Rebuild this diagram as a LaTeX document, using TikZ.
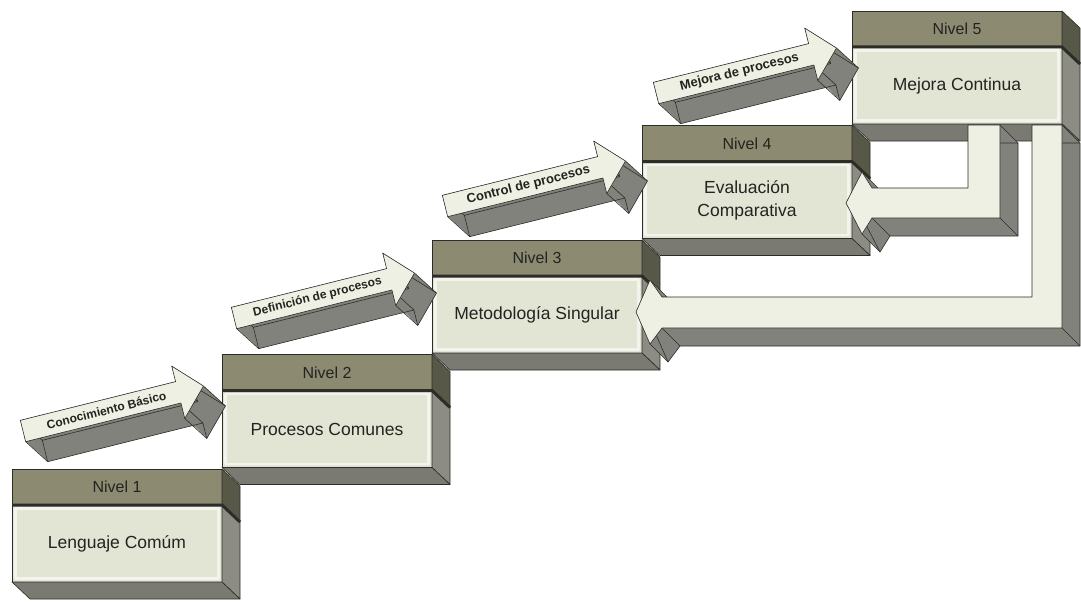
\documentclass[tikz,border=0pt]{standalone}
\usepackage{fontspec}
\setmainfont{Liberation Sans}
\usetikzlibrary{calc}

\definecolor{hdr}{RGB}{140,139,114}
\definecolor{hdrside}{RGB}{88,88,72}
\definecolor{bodyfill}{RGB}{226,228,212}
\definecolor{bodyside}{RGB}{140,140,132}
\definecolor{bodybot}{RGB}{122,122,114}
\definecolor{arrtop}{RGB}{238,240,228}
\definecolor{arrside}{RGB}{130,130,124}
\definecolor{edge}{RGB}{45,45,40}
\definecolor{ink}{RGB}{35,35,32}

\tikzset{
  hdrbox/.style={draw=edge, fill=hdr, line width=0.8pt, minimum width=210pt,
    minimum height=36pt, inner sep=0pt, outer sep=0pt, text=ink,
    font=\fontsize{16}{19}\selectfont},
  bodybox/.style={draw=edge, fill=bodyfill, line width=0.8pt, minimum width=210pt,
    minimum height=77pt, inner sep=0pt, outer sep=0pt, text=ink, align=center,
    font=\fontsize{17.5}{23}\selectfont},
  face/.style={draw=edge, line width=0.6pt},
  arrtext/.style={text=ink, inner sep=0pt},
}

% one level of the staircase: #1 name, #2 left, #3 top, #4 level label, #5 body text
\newcommand{\stage}[5]{%
  \node[hdrbox] (#1h) at (#2+105,#3+18) {#4};
  \node[bodybox] (#1) at (#2+105,#3+74.5) {#5};
  \filldraw[face, fill=hdrside] (#1h.north east) -- ++(18,17)
    -- ([shift={(18,17)}]#1h.south east) -- (#1h.south east) -- cycle;
  \filldraw[face, fill=bodyside] (#1.north east) -- ++(18,17)
    -- ([shift={(18,17)}]#1.south east) -- (#1.south east) -- cycle;
  \filldraw[face, fill=bodybot] (#1.south west) -- (#1.south east) -- ++(18,17)
    -- ([shift={(18,17)}]#1.south west) -- cycle;
  \draw[edge, line width=3pt] (#1h.south west) -- (#1h.south east) -- ++(18,17);
  \draw[white!60!bodyfill, line width=2.5pt]
    ([shift={(3.5,3.5)}]#1.north west) rectangle ([shift={(-3.5,-3.5)}]#1.south east);
}

% outline of a rising block arrow, offset by (#2,#3)
\newcommand{\steppath}[3]{([shift={(#2,#3)}]#1-1) -- ([shift={(#2,#3)}]#1-2)
  -- ([shift={(#2,#3)}]#1-3) -- ([shift={(#2,#3)}]#1-4) -- ([shift={(#2,#3)}]#1-5)
  -- ([shift={(#2,#3)}]#1-6) -- ([shift={(#2,#3)}]#1-7) -- cycle}

% rising block arrow: #1 name, #2/#3 tail centre, #4 font size, #5 text
\newcommand{\steparrow}[5]{%
  \begin{scope}[shift={(#2,#3)},rotate=14]
    \path (0,-11) coordinate (#1-1) (160,-11) coordinate (#1-2)
          (160,-27) coordinate (#1-3) (186,0) coordinate (#1-4)
          (160,27) coordinate (#1-5) (160,11) coordinate (#1-6)
          (0,11) coordinate (#1-7) (86,0) coordinate (#1-c);
  \end{scope}
  \foreach \ex in {0,1,...,20}{\fill[arrside] \steppath{#1}{1.1*\ex}{\ex};}
  \draw[face] \steppath{#1}{22}{20};
  \foreach \v in {1,...,7}{\draw[face] (#1-\v) -- ++(22,20);}
  \filldraw[face, fill=arrtop] \steppath{#1}{0}{0};
  \node[arrtext, rotate=14, font=\bfseries\fontsize{#4}{#4}\selectfont] (#1) at (#1-c) {#5};
}

% feedback arrows coming back from the top level
\newcommand{\backApath}[1]{(968+#1,125+#1) -- (1000+#1,125+#1) -- (1000+#1,218+#1)
  -- (872+#1,218+#1) -- (862+#1,234+#1) -- (846+#1,203+#1) -- (862+#1,172+#1)
  -- (872+#1,188+#1) -- (968+#1,188+#1) -- cycle}
\newcommand{\backBpath}[1]{(1032+#1,125+#1) -- (1062+#1,125+#1) -- (1062+#1,328+#1)
  -- (662+#1,328+#1) -- (650+#1,344+#1) -- (636+#1,312+#1) -- (650+#1,280+#1)
  -- (662+#1,297+#1) -- (1032+#1,297+#1) -- cycle}

\begin{document}
\begin{tikzpicture}[x=1pt,y=-1pt,line join=round]
  \useasboundingbox (0,0) rectangle (1081,602);
  \fill[white] (0,0) rectangle (1081,602);

  \stage{lv5}{852}{11}{Nivel 5}{Mejora Continua}
  \stage{lv4}{642}{125.5}{Nivel 4}{Evaluación\\Comparativa}

  % return arrow into level 4
  \foreach \ex in {0,1,...,18}{\fill[arrside] \backApath{\ex};}
  \draw[face] \backApath{18};
  \foreach \p in {(968,125),(1000,125),(1000,218),(872,218),(862,234),(846,203),(862,172),(872,188)}
    {\draw[face] \p -- ++(18,18);}
  \filldraw[face, fill=arrtop] \backApath{0};

  \stage{lv3}{432}{240}{Nivel 3}{Metodología Singular}

  % return arrow into level 3
  \foreach \ex in {0,1,...,18}{\fill[arrside] \backBpath{\ex};}
  \draw[face] \backBpath{18};
  \foreach \p in {(1032,125),(1062,125),(1062,328),(662,328),(650,344),(636,312),(650,280),(662,297)}
    {\draw[face] \p -- ++(18,18);}
  \filldraw[face, fill=arrtop] \backBpath{0};

  \stage{lv2}{222}{354.5}{Nivel 2}{Procesos Comunes}
  \stage{lv1}{12}{469}{Nivel 1}{Lenguaje Comúm}

  \steparrow{ar1}{23}{431}{12}{Conocimiento Básico}
  \steparrow{ar2}{234}{318}{12}{Definición de procesos}
  \steparrow{ar3}{445}{206}{13}{Control de procesos}
  \steparrow{ar4}{656}{93}{13}{Mejora de procesos}
\end{tikzpicture}
\end{document}
